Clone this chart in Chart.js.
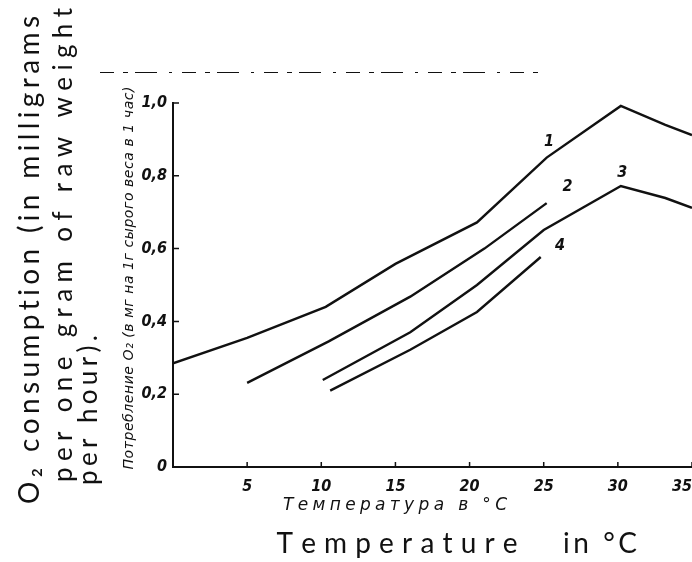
<!DOCTYPE html>
<html lang="en">
<head>
<meta charset="UTF-8">
<title>O2 consumption</title>
<script src="https://cdn.jsdelivr.net/npm/chart.js@4.4.0/dist/chart.umd.min.js"></script>
<style>
  html, body { margin: 0; padding: 0; background: #fff; }
  .chart-view { width: 692px; height: 562px; }
</style>
</head>
<body>
<div class="chart-view"><canvas id="chart" width="692" height="562"></canvas></div>
<script>
  //data
  const temps1 = [0, 5, 10.3, 15, 20.5, 25.2, 30.2, 33.2, 35];
  const o2Curve1 = [0.285, 0.355, 0.44, 0.558, 0.672, 0.85, 0.992, 0.94, 0.912];
  const temps2 = [5, 10.5, 16, 21, 25.2];
  const o2Curve2 = [0.231, 0.345, 0.468, 0.6, 0.725];
  const temps3 = [10.1, 16, 20.5, 25, 30.2, 33.2, 35];
  const o2Curve3 = [0.239, 0.37, 0.5, 0.651, 0.772, 0.739, 0.712];
  const temps4 = [10.6, 16, 20.5, 24.8];
  const o2Curve4 = [0.21, 0.322, 0.426, 0.577];

  const curveNames = ['1', '2', '3', '4'];
  const nameX = [25.35, 26.6, 30.3, 26.1];
  const nameY = [0.893, 0.769, 0.807, 0.607];

  const xTicks = [5, 10, 15, 20, 25, 30, 35];
  const yTicks = [0.2, 0.4, 0.6, 0.8, 1.0];

  const ruTitleY = 'Потребление O₂ (в мг на 1г сырого веса в 1 час)';
  const ruTitleX = 'Температура в °C';
  const enNotes = ['O₂ consumption (in milligrams', 'per one gram of raw weight', 'per hour).'];

  const ink = '#111';
  const digitFont = "'Liberation Sans Narrow', 'DejaVu Sans Condensed', 'Liberation Sans', sans-serif";

  function pts(xs, ys) {
    return xs.map((x, i) => ({ x: x, y: ys[i] }));
  }

  // spread a string over a given length, centred on (x, y)
  function drawSpread(ctx, text, x, y, len, rot, font) {
    ctx.save();
    ctx.translate(x, y);
    ctx.rotate(rot);
    ctx.font = font;
    ctx.fillStyle = ink;
    ctx.textBaseline = 'alphabetic';
    ctx.textAlign = 'left';
    const chars = Array.from(text);
    const widths = chars.map(c => ctx.measureText(c).width);
    const total = widths.reduce((a, b) => a + b, 0);
    const gap = chars.length > 1 ? (len - total) / (chars.length - 1) : 0;
    let pos = -len / 2;
    chars.forEach((c, i) => {
      ctx.fillText(c, pos, 0);
      pos += widths[i] + gap;
    });
    ctx.restore();
  }

  const annotations = {
    id: 'annotations',
    afterDraw(chart) {
      const ctx = chart.ctx;
      const xs = chart.scales.x;
      const ys = chart.scales.y;
      const x0 = xs.getPixelForValue(0);
      const y0 = ys.getPixelForValue(0);

      // inward tick marks
      ctx.save();
      ctx.strokeStyle = ink;
      ctx.lineWidth = 1.5;
      ctx.beginPath();
      xTicks.forEach(t => {
        const px = xs.getPixelForValue(t);
        ctx.moveTo(px, y0);
        ctx.lineTo(px, y0 - 5);
      });
      yTicks.forEach(t => {
        const py = ys.getPixelForValue(t);
        ctx.moveTo(x0, py);
        ctx.lineTo(x0 + 6, py);
      });
      ctx.stroke();

      // broken rule at the top of the scan
      ctx.strokeStyle = '#111';
      ctx.lineWidth = 1;
      ctx.setLineDash([14, 9, 5, 7, 22, 12, 3, 10]);
      ctx.beginPath();
      ctx.moveTo(100, 72.5);
      ctx.lineTo(543, 72.5);
      ctx.stroke();
      ctx.restore();

      // curve numbers
      ctx.save();
      ctx.fillStyle = ink;
      ctx.font = 'italic bold 16px ' + digitFont;
      ctx.textAlign = 'center';
      ctx.textBaseline = 'middle';
      curveNames.forEach((n, i) => {
        ctx.fillText(n, xs.getPixelForValue(nameX[i]), ys.getPixelForValue(nameY[i]));
      });
      ctx.restore();

      // printed axis titles
      drawSpread(ctx, ruTitleY, 133, 278, 383, -Math.PI / 2, "italic 14px 'DejaVu Sans', sans-serif");
      drawSpread(ctx, ruTitleX, 395, 510, 224, 0, "italic 17px 'DejaVu Sans', sans-serif");

      // handwritten notes
      const big = "28px 'Lato', 'Noto Sans', sans-serif";
      const mid = "26px 'Lato', 'Noto Sans', sans-serif";
      drawSpread(ctx, enNotes[0], 39, 260, 488, -Math.PI / 2, big);
      drawSpread(ctx, enNotes[1], 72, 245, 474, -Math.PI / 2, mid);
      drawSpread(ctx, enNotes[2], 97, 410, 150, -Math.PI / 2, mid);
      drawSpread(ctx, 'Temperature', 397, 553, 241, 0, big);
      drawSpread(ctx, 'in °C', 600, 553, 74, 0, big);
    }
  };

  const lineStyle = {
    showLine: true,
    borderColor: ink,
    borderWidth: 2.4,
    pointRadius: 0,
    tension: 0,
    fill: false
  };

  //config
  const config = {
    type: 'scatter',
    data: {
      datasets: [
        Object.assign({ label: '1', data: pts(temps1, o2Curve1) }, lineStyle),
        Object.assign({ label: '2', data: pts(temps2, o2Curve2) }, lineStyle),
        Object.assign({ label: '3', data: pts(temps3, o2Curve3) }, lineStyle),
        Object.assign({ label: '4', data: pts(temps4, o2Curve4) }, lineStyle)
      ]
    },
    options: {
      responsive: false,
      animation: false,
      layout: { padding: { top: 103, left: 0, right: 0, bottom: 0 } },
      plugins: {
        legend: { display: false },
        tooltip: { enabled: false }
      },
      scales: {
        x: {
          type: 'linear',
          min: 0,
          max: 35,
          grid: { display: false, drawTicks: false },
          border: { display: true, color: ink, width: 2 },
          ticks: {
            stepSize: 5,
            align: 'inner',
            padding: 10,
            maxRotation: 0,
            autoSkip: false,
            color: ink,
            font: { family: digitFont, size: 16, style: 'italic', weight: 'bold' },
            callback: v => (v === 0 ? '' : String(v))
          },
          afterFit(scale) {
            scale.height = 95;
            scale.paddingLeft = 0;
            scale.paddingRight = 0;
          }
        },
        y: {
          min: 0,
          max: 1,
          grid: { display: false, drawTicks: false },
          border: { display: true, color: ink, width: 2 },
          ticks: {
            stepSize: 0.2,
            padding: 6,
            color: ink,
            font: { family: digitFont, size: 16, style: 'italic', weight: 'bold' },
            callback: v => (v === 0 ? '0' : v.toFixed(1).replace('.', ','))
          },
          afterFit(scale) {
            scale.width = 173;
            scale.paddingTop = 0;
            scale.paddingBottom = 0;
          }
        }
      }
    },
    plugins: [annotations]
  };

  //init
  const ctx = document.getElementById('chart');
  const chart = new Chart(ctx, config);
</script>
</body>
</html>
